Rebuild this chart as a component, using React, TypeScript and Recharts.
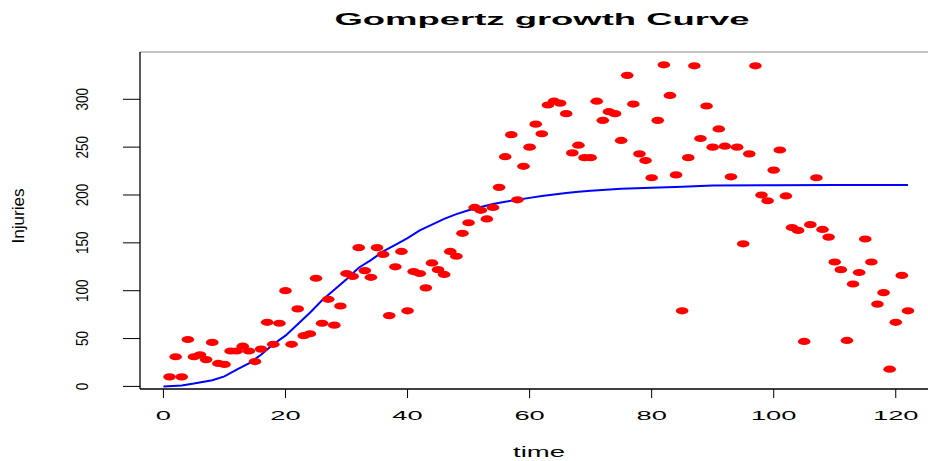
import React from 'react';
import {
  ComposedChart,
  Scatter,
  Line,
  XAxis,
  YAxis,
  ReferenceLine,
} from 'recharts';

// observed injuries, one per time step starting at t = 1
const injuries = [
  10, 31, 10, 49, 31, 33, 28, 46, 24, 23,
  37, 37, 42, 37, 26, 39, 67, 44, 66, 100,
  44, 81, 53, 55, 113, 66, 91, 64, 84, 118,
  115, 145, 121, 114, 145, 138, 74, 125, 141, 79,
  120, 118, 103, 129, 122, 117, 141, 136, 160, 171,
  187, 184, 175, 187, 208, 240, 263, 195, 230, 250,
  274, 264, 294, 298, 296, 285, 244, 252, 239, 239,
  298, 278, 287, 285, 257, 325, 295, 243, 236, 218,
  278, 336, 304, 221, 79, 239, 335, 259, 293, 250,
  269, 251, 219, 250, 149, 243, 335, 200, 194, 226,
  247, 199, 166, 163, 47, 169, 218, 164, 156, 130,
  122, 48, 107, 119, 154, 130, 86, 98, 18, 67,
  116, 79,
];

// fitted Gompertz curve
const fitTime = [
  0, 3, 5, 8, 10, 12, 14, 16, 18, 20, 22, 24, 26, 28, 30, 32, 34, 36, 38, 40,
  42, 44, 46, 48, 50, 52, 54, 56, 58, 60, 62, 64, 66, 68, 70, 75, 80, 85, 90,
  100, 110, 122,
];
const fitValue = [
  0, 1, 3, 6.5, 10.5, 17.5, 24, 33, 44, 53, 65, 77, 90, 101, 112, 124, 132, 141, 148, 155,
  163, 169, 175, 180, 184, 187.5, 190.5, 193, 195, 197, 199, 200.5, 202, 203.5, 204.5, 206.5, 207.5, 208.5, 209.8,
  210.3, 210.5, 210.5,
];

const xTicks = [0, 20, 40, 60, 80, 100, 120];
const yTicks = [0, 50, 100, 150, 200, 250, 300];

const points = injuries.map((v, i) => ({ t: i + 1, v }));
const curve = fitTime.map((t, i) => ({ t, fit: fitValue[i] }));

const FONT = '"Liberation Sans", Arial, Helvetica, sans-serif';

const Dot = (props: any) => (
  <ellipse cx={props.cx} cy={props.cy} rx={6.3} ry={3.6} fill="#ff0000" />
);

const XTick = ({ x, y, payload }: any) => (
  <text
    transform={`translate(${x},${y + 20}) scale(2.1,1)`}
    textAnchor="middle"
    fontFamily={FONT}
    fontSize={13}
    fill="#000"
  >
    {payload.value}
  </text>
);

const YTick = ({ x, y, payload }: any) => (
  <text
    transform={`translate(${x - 33},${y}) rotate(-90) scale(1,1.24)`}
    textAnchor="middle"
    fontFamily={FONT}
    fontSize={13.5}
    fill="#000"
  >
    {payload.value}
  </text>
);

export default function App() {
  return (
    <div
      style={{
        position: 'absolute',
        left: 0,
        top: 0,
        width: 928,
        height: 461,
        overflow: 'hidden',
        background: '#fff',
      }}
    >
      <svg width={928} height={40} style={{ position: 'absolute', left: 0, top: 0 }}>
        <text
          x={542}
          y={25}
          textAnchor="middle"
          fontFamily={FONT}
          fontWeight="bold"
          fontSize={17}
          textLength={415}
          lengthAdjust="spacingAndGlyphs"
        >
          Gompertz growth Curve
        </text>
      </svg>
      <ComposedChart
        width={940}
        height={461}
        margin={{ top: 52, right: 2.5, bottom: 0, left: 80 }}
      >
        <XAxis
          type="number"
          dataKey="t"
          domain={[-3.84, 126.84]}
          ticks={xTicks}
          allowDataOverflow
          height={72}
          tickSize={9}
          axisLine={{ stroke: '#000', strokeWidth: 1.3 }}
          tickLine={{ stroke: '#000' }}
          tick={<XTick />}
          label={{
            content: () => (
              <text
                x={539}
                y={457}
                textAnchor="middle"
                fontFamily={FONT}
                fontSize={14}
                textLength={52}
                lengthAdjust="spacingAndGlyphs"
              >
                time
              </text>
            ),
          }}
        />
        <YAxis
          type="number"
          domain={[-2.7, 349.4]}
          ticks={yTicks}
          allowDataOverflow
          width={60}
          tickSize={17}
          axisLine={{ stroke: '#000', strokeWidth: 1.3 }}
          tickLine={{ stroke: '#000' }}
          tick={<YTick />}
          label={{
            content: () => (
              <text
                transform="translate(24,216) rotate(-90)"
                textAnchor="middle"
                fontFamily={FONT}
                fontSize={16}
                textLength={55}
                lengthAdjust="spacingAndGlyphs"
              >
                Injuries
              </text>
            ),
          }}
        />
        <ReferenceLine y={349.4} stroke="#8c8c8c" strokeWidth={1.2} />
        <Scatter
          data={points}
          dataKey="v"
          shape={Dot}
          isAnimationActive={false}
        />
        <Line
          data={curve}
          dataKey="fit"
          type="linear"
          stroke="#0000ff"
          strokeWidth={2}
          dot={false}
          activeDot={false}
          isAnimationActive={false}
        />
      </ComposedChart>
    </div>
  );
}
